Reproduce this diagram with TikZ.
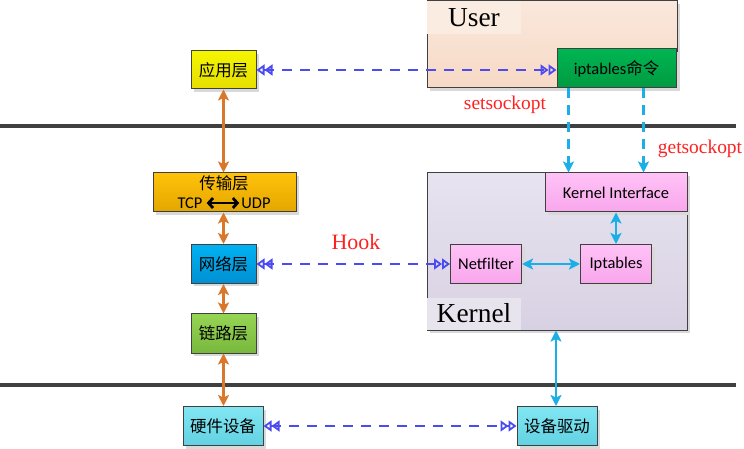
\documentclass[tikz,border=0pt]{standalone}
\usepackage{fontspec}
\setmainfont{Carlito}
\newfontfamily\cjk{Noto Sans CJK SC}
\newfontfamily\serifx{Liberation Serif}
\usetikzlibrary{arrows.meta,shadows}
\definecolor{edge}{HTML}{404040}
\definecolor{oarrc}{HTML}{D9782B}
\definecolor{carrc}{HTML}{1AAFE6}
\definecolor{bdash}{HTML}{4B4BF0}
\definecolor{redt}{HTML}{FF2020}
\definecolor{usertop}{HTML}{FAE8DC}
\definecolor{userbot}{HTML}{F7D9C5}
\definecolor{userstrip}{HTML}{FBECE2}
\definecolor{kerntop}{HTML}{E7E3EF}
\definecolor{kernbot}{HTML}{D8D1E3}
\definecolor{kernstrip}{HTML}{E8E4EE}
\definecolor{apptop}{HTML}{F5F500}
\definecolor{appbot}{HTML}{E6DE00}
\definecolor{tltop}{HTML}{FFC20A}
\definecolor{tlbot}{HTML}{E3A600}
\definecolor{nettop}{HTML}{00B2F2}
\definecolor{netbot}{HTML}{0090D2}
\definecolor{linktop}{HTML}{96D454}
\definecolor{linkbot}{HTML}{78B83C}
\definecolor{devtop}{HTML}{82E6F2}
\definecolor{devbot}{HTML}{62D2E2}
\definecolor{cmdtop}{HTML}{00B552}
\definecolor{cmdbot}{HTML}{009A40}
\definecolor{pinktop}{HTML}{FFC2F6}
\definecolor{pinkbot}{HTML}{F8A6EC}
\tikzset{
  box/.style={draw=edge, line width=1bp, inner sep=0pt, align=center,
    drop shadow={shadow xshift=3bp, shadow yshift=-3bp, fill=black!15, opacity=1}},
  cjkbox/.style={box, font=\cjk\fontsize{16.5}{18}\selectfont},
  latbox/.style={box, font=\fontsize{16.5}{18}\selectfont},
  oarr/.style={draw=oarrc, line width=2.2bp, {Stealth[length=11bp,width=11bp,inset=2.5bp]}-{Stealth[length=11bp,width=11bp,inset=2.5bp]}},
  carr/.style={draw=carrc, line width=2.2bp, {Stealth[length=11bp,width=11bp,inset=2.5bp]}-{Stealth[length=11bp,width=11bp,inset=2.5bp]}},
  cdash/.style={draw=carrc, line width=2.2bp, dash pattern=on 10bp off 7bp, -{Stealth[length=11bp,width=11bp,inset=2.5bp]}},
  bdashed/.style={draw=bdash, line width=2.2bp, dash pattern=on 10bp off 8bp,
    {Triangle[open,length=8bp,width=11bp,line width=1.8bp]Triangle[open,length=8bp,width=11bp,line width=1.8bp]}-{Triangle[open,length=8bp,width=11bp,line width=1.8bp]Triangle[open,length=8bp,width=11bp,line width=1.8bp]}},
  sepline/.style={draw=edge, line width=3.5bp},
  redlab/.style={text=redt, font=\serifx\fontsize{19.5}{21}\selectfont, inner sep=0pt},
  biglab/.style={font=\serifx\fontsize{27.5}{29}\selectfont, inner sep=0pt},
}
\begin{document}
\begin{tikzpicture}[x=1bp,y=-1bp]
\useasboundingbox (0,0) rectangle (744,449);
% separators
\coordinate (s1a) at (0,126);
\coordinate (s1b) at (736,126);
\coordinate (s2a) at (0,385);
\coordinate (s2b) at (736,385);
\draw[sepline] (s1a) -- (s1b);
\draw[sepline] (s2a) -- (s2b);
% big containers
\node[box, minimum width=250bp, minimum height=87bp, top color=usertop, bottom color=userbot] (user) at (552,44.5) {};
\fill[userstrip] ([xshift=0.6bp,yshift=-0.6bp]user.north west) rectangle ++(94,33);
\node[biglab, anchor=center] (usert) at (474,18) {User};
\node[box, minimum width=260bp, minimum height=157bp, top color=kerntop, bottom color=kernbot] (kernel) at (557,251.5) {};
\fill[kernstrip] ([xshift=0.6bp,yshift=0.6bp]kernel.south west) rectangle ++(94,-32);
\node[biglab] (kernelt) at (474,313) {Kernel};
% left stack
\node[cjkbox, minimum width=65bp, minimum height=38bp, top color=apptop, bottom color=appbot] (app) at (223.5,70) {应用层};
\node[box, minimum width=143bp, minimum height=39bp, top color=tltop, bottom color=tlbot] (tl) at (224.5,192.5) {};
\node[font=\cjk\fontsize{16.5}{18}\selectfont, inner sep=0pt] (tlt) at (224,183) {传输层};
\node[font=\fontsize{16.5}{18}\selectfont, inner sep=0pt] (tcp) at (190,203) {TCP};
\node[font=\fontsize{16.5}{18}\selectfont, inner sep=0pt] (udp) at (256,203) {UDP};
\draw[line width=2.8bp, {Straight Barb[length=4.5bp,width=10bp]}-{Straight Barb[length=4.5bp,width=10bp]}] ([xshift=4bp]tcp.east) -- ([xshift=-2bp]udp.west);
\node[cjkbox, minimum width=65bp, minimum height=39bp, top color=nettop, bottom color=netbot] (net) at (223.5,264) {网络层};
\node[cjkbox, minimum width=65bp, minimum height=39bp, top color=linktop, bottom color=linkbot] (link) at (223.5,333.5) {链路层};
\node[cjkbox, minimum width=80bp, minimum height=39bp, top color=devtop, bottom color=devbot] (hw) at (223,426) {硬件设备};
\node[cjkbox, minimum width=80bp, minimum height=39bp, top color=devtop, bottom color=devbot] (drv) at (557,426) {设备驱动};
% right side boxes
\node[box, minimum width=119bp, minimum height=39bp, top color=cmdtop, bottom color=cmdbot, font=\fontsize{16.5}{18}\selectfont] (cmd) at (616.5,68.5) {iptables{\cjk 命令}};
\node[latbox, minimum width=142bp, minimum height=39bp, top color=pinktop, bottom color=pinkbot] (ki) at (616,192.5) {Kernel Interface};
\node[latbox, minimum width=71bp, minimum height=39bp, top color=pinktop, bottom color=pinkbot] (nf) at (486,264) {Netfilter};
\node[latbox, minimum width=71bp, minimum height=39bp, top color=pinktop, bottom color=pinkbot] (ipt) at (616,264) {Iptables};
% labels
\node[redlab] (setl) at (505,105) {setsockopt};
\node[redlab] (getl) at (700,149) {getsockopt};
\node[redlab, font=\serifx\fontsize{22}{24}\selectfont] (hookl) at (356,242) {Hook};
% orange arrows
\draw[oarr] (app.south) -- (app.south |- tl.north);
\draw[oarr] (net.north |- tl.south) -- (net.north);
\draw[oarr] (net.south) -- (link.north);
\draw[oarr] (link.south) -- (link.south |- hw.north);
% cyan arrows
\draw[cdash] ([xshift=12bp]cmd.south west) -- ([xshift=12bp]cmd.south west |- ki.north);
\draw[cdash] ([xshift=87bp]cmd.south west) -- ([xshift=87bp]cmd.south west |- ki.north);
\draw[carr] (ki.south) -- (ipt.north);
\draw[carr] (nf.east) -- (ipt.west);
\draw[carr] ([xshift=-1bp]drv.north |- kernel.south) -- ([xshift=-1bp]drv.north);
% blue dashed
\draw[bdashed] (app.east) -- (app.east -| cmd.west);
\draw[bdashed] (net.east) -- (nf.west);
\draw[bdashed] (hw.east) -- (drv.west);
\end{tikzpicture}
\end{document}
